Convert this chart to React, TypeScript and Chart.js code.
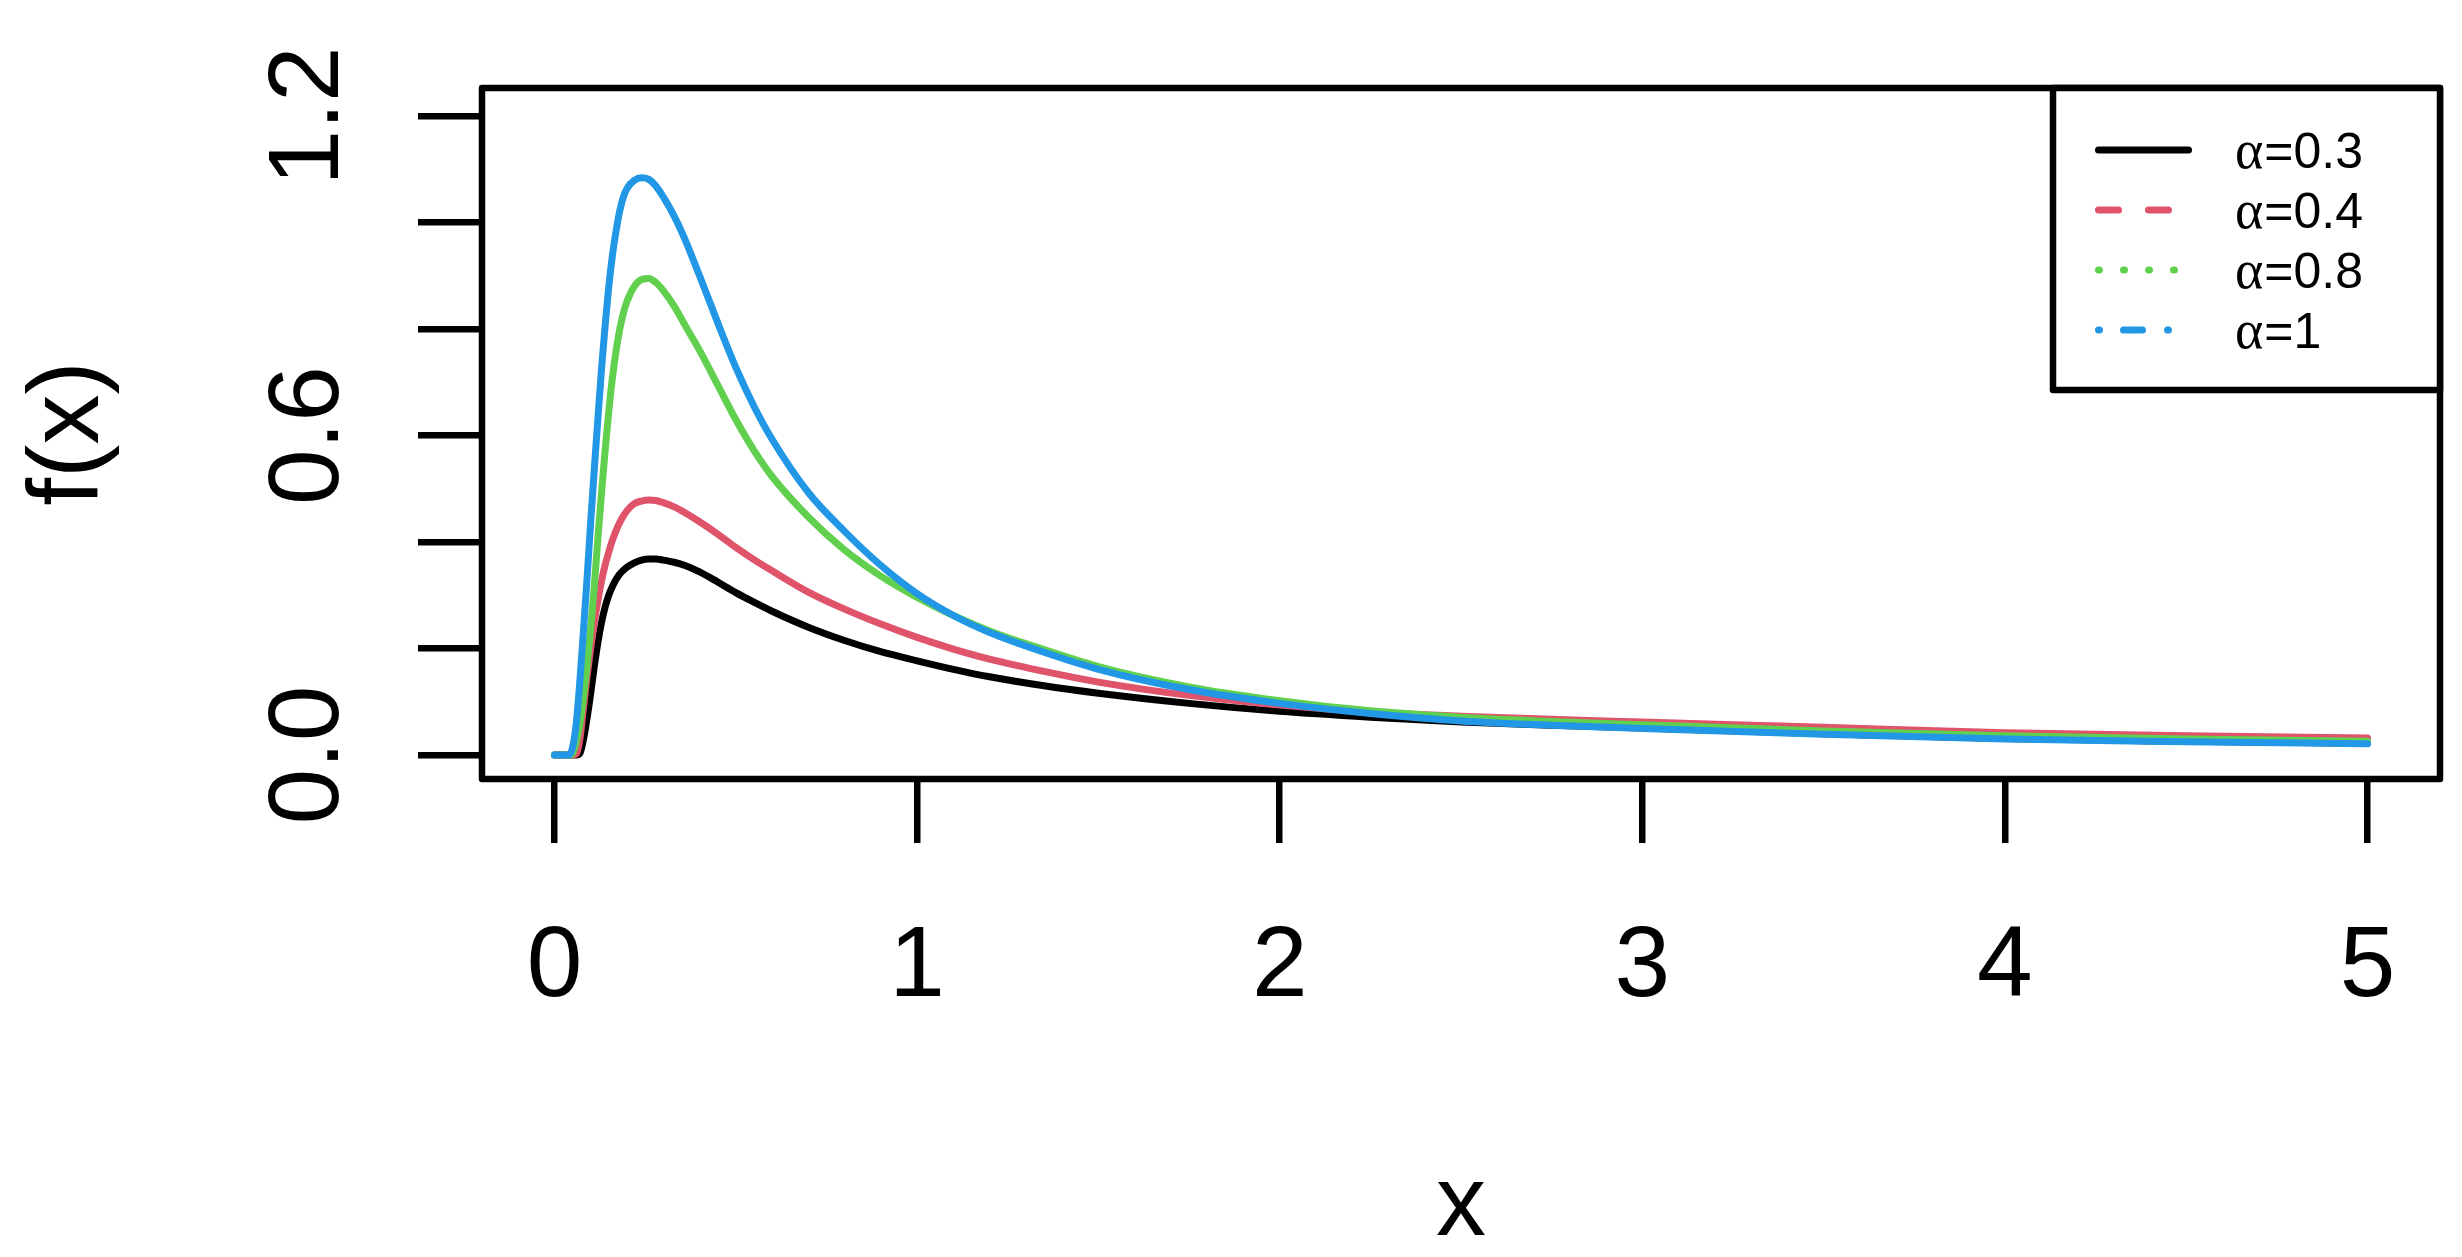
import React, { useEffect, useRef } from 'react';
import { Chart, registerables } from 'chart.js';

Chart.register(...registerables);

// ---- data ----
const xValues = [0, 0.04, 0.05, 0.06, 0.07, 0.08, 0.09, 0.1, 0.11, 0.12, 0.13, 0.14, 0.15, 0.16, 0.17, 0.18, 0.19, 0.2, 0.22, 0.24, 0.26, 0.28, 0.3, 0.33, 0.36, 0.4, 0.45, 0.5, 0.55, 0.6, 0.7, 0.8, 0.9, 1.0, 1.1, 1.2, 1.35, 1.5, 1.75, 2.0, 2.25, 2.5, 2.75, 3.0, 3.5, 4.0, 4.5, 5.0];

const densityAlpha03 = [0, 0, 0, 0, 0.003, 0.03, 0.07, 0.117, 0.168, 0.213, 0.25, 0.279, 0.301, 0.317, 0.33, 0.34, 0.347, 0.353, 0.361, 0.366, 0.368, 0.368, 0.366, 0.362, 0.356, 0.344, 0.325, 0.305, 0.287, 0.27, 0.24, 0.215, 0.194, 0.177, 0.161, 0.147, 0.13, 0.116, 0.097, 0.082, 0.071, 0.062, 0.056, 0.051, 0.04, 0.031, 0.026, 0.022];
const densityAlpha04 = [0, 0, 0, 0.002, 0.03, 0.09, 0.149, 0.202, 0.25, 0.292, 0.328, 0.358, 0.382, 0.404, 0.422, 0.437, 0.449, 0.459, 0.472, 0.477, 0.479, 0.478, 0.474, 0.466, 0.455, 0.438, 0.415, 0.39, 0.367, 0.346, 0.306, 0.274, 0.246, 0.221, 0.199, 0.18, 0.157, 0.137, 0.112, 0.094, 0.081, 0.073, 0.067, 0.062, 0.052, 0.042, 0.036, 0.032];
const densityAlpha08 = [0, 0, 0.004, 0.025, 0.06, 0.11, 0.17, 0.24, 0.32, 0.41, 0.495, 0.575, 0.648, 0.71, 0.76, 0.8, 0.83, 0.852, 0.88, 0.893, 0.895, 0.887, 0.872, 0.843, 0.807, 0.76, 0.695, 0.63, 0.572, 0.523, 0.447, 0.385, 0.336, 0.296, 0.262, 0.233, 0.198, 0.166, 0.128, 0.102, 0.083, 0.071, 0.063, 0.057, 0.045, 0.036, 0.03, 0.026];
const densityAlpha1 = [0, 0, 0.015, 0.06, 0.14, 0.235, 0.335, 0.44, 0.54, 0.635, 0.728, 0.81, 0.882, 0.94, 0.985, 1.022, 1.048, 1.064, 1.079, 1.084, 1.081, 1.068, 1.048, 1.012, 0.968, 0.9, 0.812, 0.728, 0.655, 0.593, 0.493, 0.42, 0.356, 0.303, 0.262, 0.23, 0.193, 0.161, 0.123, 0.097, 0.078, 0.064, 0.056, 0.05, 0.039, 0.03, 0.025, 0.021];

const seriesLabels = ['α=0.3', 'α=0.4', 'α=0.8', 'α=1'];
const seriesColors = ['#000000', '#DF536B', '#61D04F', '#2297E6'];
const legendDashes = [[], [20, 30], [1, 24], [1, 24, 19, 25]];

const xTicks = [0, 1, 2, 3, 4, 5];
const xTickLabels = ['0', '1', '2', '3', '4', '5'];
const yTicks = [0, 0.2, 0.4, 0.6, 0.8, 1.0, 1.2];
const yTickLabels = ['0.0', '', '', '0.6', '', '', '1.2'];
const xTitle = 'x';
const yTitle = 'f(x)';

const FONT = '"Liberation Sans", Arial, Helvetica, sans-serif';
const SERIF = '"Liberation Serif", "DejaVu Serif", serif';

const rStylePlugin = {
  id: 'rStyle',
  afterDraw(chart: any) {
    const ctx = chart.ctx as CanvasRenderingContext2D;
    const area = chart.chartArea;
    const xs = chart.scales.x;
    const ys = chart.scales.y;
    ctx.save();
    // plot box
    ctx.strokeStyle = '#000';
    ctx.lineWidth = 6.5;
    ctx.lineJoin = 'round';
    ctx.strokeRect(area.left, area.top, area.right - area.left, area.bottom - area.top);

    ctx.fillStyle = '#000';
    ctx.font = `100px ${FONT}`;
    // x tick labels
    ctx.textAlign = 'center';
    ctx.textBaseline = 'alphabetic';
    xTicks.forEach((v, i) => {
      ctx.fillText(xTickLabels[i], xs.getPixelForValue(v), area.bottom + 217);
    });
    // y tick labels (rotated, parallel to axis)
    yTicks.forEach((v, i) => {
      if (!yTickLabels[i]) return;
      ctx.save();
      ctx.translate(area.left - 144, ys.getPixelForValue(v));
      ctx.rotate(-Math.PI / 2);
      ctx.textAlign = 'center';
      ctx.fillText(yTickLabels[i], 0, 0);
      ctx.restore();
    });
    // axis titles
    ctx.fillText(xTitle, (area.left + area.right) / 2, 1235);
    ctx.save();
    ctx.translate(98, (area.top + area.bottom) / 2);
    ctx.rotate(-Math.PI / 2);
    ctx.textAlign = 'center';
    ctx.fillText(yTitle, 0, 0);
    ctx.restore();

    // legend (top right, inside plot box)
    const lw = 387;
    const lh = 302;
    const lx = area.right - lw;
    const ly = area.top;
    ctx.fillStyle = '#fff';
    ctx.fillRect(lx, ly, lw, lh);
    ctx.strokeStyle = '#000';
    ctx.lineWidth = 6.5;
    ctx.strokeRect(lx, ly, lw, lh);
    ctx.textAlign = 'left';
    ctx.textBaseline = 'alphabetic';
    chart.data.datasets.forEach((ds: any, i: number) => {
      const rowY = ly + 62 + i * 60;
      ctx.save();
      ctx.strokeStyle = ds.borderColor;
      ctx.lineWidth = 7;
      ctx.lineCap = 'round';
      ctx.setLineDash(legendDashes[i]);
      ctx.beginPath();
      ctx.moveTo(lx + 45.5, rowY);
      ctx.lineTo(lx + 135.5, rowY);
      ctx.stroke();
      ctx.restore();
      ctx.fillStyle = '#000';
      const label: string = ds.label;
      const greek = label.charAt(0);
      const rest = label.slice(1);
      let tx = lx + 182;
      ctx.font = `54px ${SERIF}`;
      ctx.fillText(greek, tx, rowY + 18);
      tx += ctx.measureText(greek).width + 1;
      ctx.font = `50px ${FONT}`;
      ctx.fillText(rest, tx, rowY + 18);
    });
    ctx.restore();
  },
};

export default function App() {
  const canvasRef = useRef<HTMLCanvasElement | null>(null);

  useEffect(() => {
    const canvas = canvasRef.current;
    if (!canvas) return;
    const seriesValues = [densityAlpha03, densityAlpha04, densityAlpha08, densityAlpha1];
    const datasets = seriesValues.map((vals, i) => ({
      label: seriesLabels[i],
      data: xValues.map((x, j) => ({ x, y: vals[j] })),
      borderColor: seriesColors[i],
      backgroundColor: seriesColors[i],
      borderWidth: 7,
      pointRadius: 0,
      fill: false,
      cubicInterpolationMode: 'monotone' as const,
      borderCapStyle: 'round' as const,
      borderJoinStyle: 'round' as const,
      order: seriesValues.length - i,
    }));

    const gridStyle = {
      display: true,
      drawOnChartArea: false,
      drawTicks: true,
      tickLength: 64,
      tickWidth: 6.5,
      tickColor: '#000',
      lineWidth: 6.5,
      color: '#000',
    };

    const chart = new Chart(canvas, {
      type: 'line',
      data: { datasets },
      options: {
        animation: false,
        responsive: false,
        maintainAspectRatio: false,
        devicePixelRatio: 1,
        layout: { padding: { top: 88, right: 22, bottom: 0, left: 0 } },
        plugins: {
          legend: { display: false },
          tooltip: { enabled: false },
          title: { display: false },
        },
        scales: {
          x: {
            type: 'linear',
            min: -0.2,
            max: 5.2,
            afterBuildTicks: (s: any) => {
              s.ticks = xTicks.map((v) => ({ value: v }));
            },
            afterFit: (s: any) => {
              s.height = 1257 - 779;
            },
            ticks: { display: false },
            border: { display: false },
            grid: gridStyle,
          },
          y: {
            type: 'linear',
            min: -0.045,
            max: 1.2526,
            afterBuildTicks: (s: any) => {
              s.ticks = yTicks.map((v) => ({ value: v }));
            },
            afterFit: (s: any) => {
              s.width = 482;
            },
            ticks: { display: false },
            border: { display: false },
            grid: gridStyle,
          },
        },
      },
      plugins: [rStylePlugin],
    });
    return () => chart.destroy();
  }, []);

  return (
    <div style={{ position: 'fixed', left: 0, top: 0, width: 2462, height: 1257, background: '#fff' }}>
      <canvas ref={canvasRef} width={2462} height={1257} style={{ width: 2462, height: 1257, display: 'block' }} />
    </div>
  );
}
